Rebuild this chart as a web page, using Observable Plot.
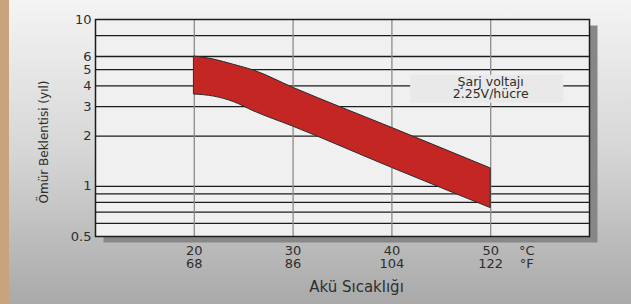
<!DOCTYPE html>
<html>
<head>
<meta charset="utf-8">
<script src="https://cdn.jsdelivr.net/npm/d3@7"></script>
<script src="https://cdn.jsdelivr.net/npm/@observablehq/plot@0.6"></script>
<style>
  html, body { margin: 0; padding: 0; }
  #chart {
    width: 631px; height: 304px; overflow: hidden;
    background:
      linear-gradient(to right, #c8a47e 0 9px, transparent 9px),
      linear-gradient(to bottom, #f4f4f4 0%, #d6d6d6 50%, #a9a9a9 100%);
  }
  #chart svg { display: block; }
</style>
</head>
<body>
<div id="chart"></div>
<script>
// ---- data ----
const yTicks = [0.5, 1, 2, 3, 4, 5, 6, 8, 10];
const yGrid = [0.6, 0.7, 0.8, 0.9, 1, 2, 3, 4, 5, 6, 8];
const xTicks = [20, 30, 40, 50];
const fahrenheit = [68, 86, 104, 122];
const temps = [20, 22, 24, 26, 30, 40, 50];
const upperLife = [6.0, 5.75, 5.35, 4.95, 3.9, 2.24, 1.28];
const lowerLife = [3.55, 3.45, 3.2, 2.82, 2.28, 1.29, 0.74];
const legendLines = ["Şarj voltajı", "2.25V/hücre"];
const legendBox = [{x1: 41.9, x2: 57.4, y1: 3.15, y2: 4.63}];
const xTitle = "Akü Sıcaklığı";
const yTitle = "Ömür Beklentisi (yıl)";
const unitLabel = "°C\n°F";

const band = temps.map((t, i) => ({t, lo: lowerLife[i], hi: upperLife[i]}));
const font = "DejaVu Sans, sans-serif";
const ink = "#2e2e2e";

const chart = Plot.plot({
  width: 631,
  height: 304,
  marginLeft: 95,
  marginRight: 42,
  marginTop: 19,
  marginBottom: 68,
  style: {background: "transparent", fontFamily: font, fontSize: "13px", color: ink},
  x: {domain: [10, 60], ticks: xTicks, tickSize: 0, tickPadding: 9,
      tickFormat: d => d + "\n" + fahrenheit[xTicks.indexOf(d)], label: null},
  y: {type: "log", domain: [0.5, 10], ticks: yTicks, tickSize: 0, tickPadding: 4,
      tickFormat: d => String(d), label: null},
  marks: [
    Plot.frame({fill: "#878787", dx: 8, dy: 6}),
    Plot.frame({fill: "#f0f0f0"}),
    Plot.ruleY(yGrid, {stroke: "#1c1c1c", strokeWidth: 1.3}),
    Plot.ruleX(xTicks, {stroke: "#8c8c8c", strokeWidth: 1.3}),
    Plot.areaY(band, {x: "t", y1: "lo", y2: "hi", fill: "#c32623", stroke: "#2b2b2b", strokeWidth: 1, curve: "monotone-x"}),
    Plot.rect(legendBox, {x1: "x1", x2: "x2", y1: "y1", y2: "y2", fill: "#e8e9e8"}),
    Plot.text([legendLines.join("\n")], {x: 50, y: 3.87, fontSize: 12.5, lineHeight: 0.93, fill: ink}),
    Plot.frame({stroke: "#1c1c1c", strokeWidth: 1.5}),
    Plot.text([unitLabel], {x: 50, frameAnchor: "bottom", lineAnchor: "top", dx: 36, dy: 9, fontSize: 13, fill: ink}),
    Plot.text([xTitle], {frameAnchor: "bottom", dx: 14, dy: 55, fontSize: 15, fill: ink}),
    Plot.text([yTitle], {frameAnchor: "left", textAnchor: "middle", rotate: -90, dx: -51, dy: 14, fontSize: 12, fill: ink})
  ]
});
document.getElementById("chart").appendChild(chart);
</script>
</body>
</html>
